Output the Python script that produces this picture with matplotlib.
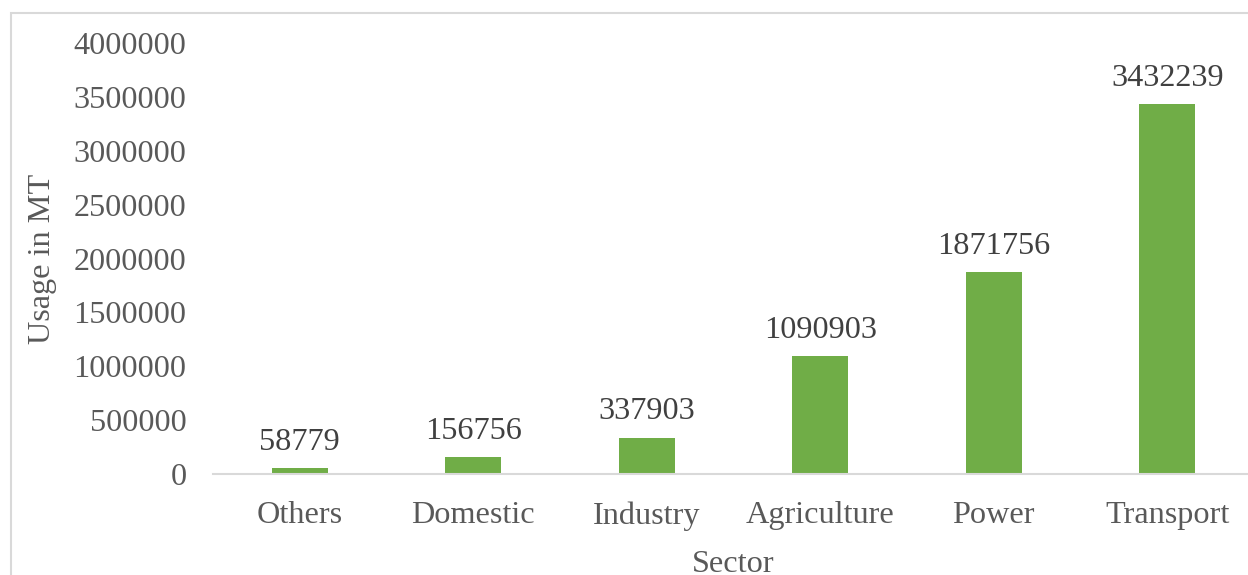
import matplotlib
matplotlib.use("Agg")
import matplotlib.pyplot as plt
from matplotlib.patches import Rectangle

sectors = ["Others", "Domestic", "Industry", "Agriculture", "Power", "Transport"]
usage = [58779, 156756, 337903, 1090903, 1871756, 3432239]
y_ticks = [0, 500000, 1000000, 1500000, 2000000, 2500000, 3000000, 3500000, 4000000]

text_color = "#595959"
value_color = "#404040"
bar_color = "#70AD47"
line_color = "#D9D9D9"
fs = 23.2

plt.rcParams["font.family"] = ["Liberation Serif", "DejaVu Serif"]

fig = plt.figure(figsize=(12.48, 5.75), dpi=100)
ax = fig.add_axes([213 / 1248, 1 - 474 / 575, (1254 - 213) / 1248, (474 - 43) / 575])

x = range(len(sectors))
bars = ax.bar(x, usage, width=0.32, color=bar_color, zorder=2)
for xi, v in zip(x, usage):
    ax.annotate(f"{v}", (xi, v), xytext=(0, 8), textcoords="offset points",
                ha="center", va="bottom", fontsize=fs, color=value_color)

ax.set_xlim(-0.5, len(sectors) - 0.5)
ax.set_ylim(0, 4000000)
ax.set_yticks(y_ticks)
ax.set_yticklabels([str(t) for t in y_ticks])
ax.set_xticks(list(x))
ax.set_xticklabels(sectors)
ax.tick_params(axis="y", length=0, pad=19, labelsize=fs, labelcolor=text_color)
ax.tick_params(axis="x", length=0, pad=19.5, labelsize=fs, labelcolor=text_color)

for side in ("top", "right", "left"):
    ax.spines[side].set_visible(False)
ax.spines["bottom"].set_color(line_color)
ax.spines["bottom"].set_linewidth(1.5)

ax.set_ylabel("Usage in MT", fontsize=fs, color=text_color, labelpad=12)
ax.set_xlabel("Sector", fontsize=fs, color=text_color, labelpad=14)

# light frame around the chart area
fig.patches.append(Rectangle((11 / 1248, -0.1), 1.2, 1 - 12.5 / 575 + 0.1,
                             transform=fig.transFigure, fill=False,
                             edgecolor=line_color, linewidth=1.5))

fig.savefig("out.png", dpi=100)
